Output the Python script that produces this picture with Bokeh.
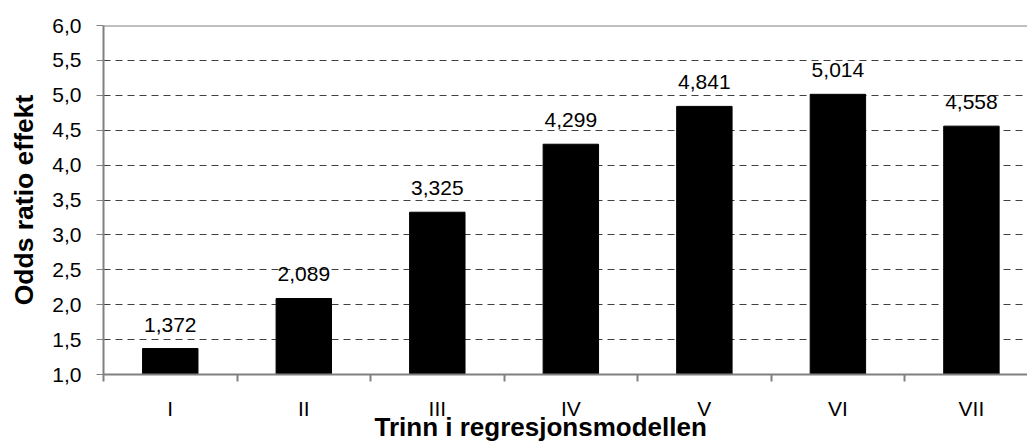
from bokeh.plotting import figure
from bokeh.models import Range1d, FixedTicker, CustomJSTickFormatter, Span, ColumnDataSource, Title
from bokeh.embed import file_html
from bokeh.resources import INLINE
from bokeh.core.properties import value

categories = ["I", "II", "III", "IV", "V", "VI", "VII"]
odds_ratio = [1.372, 2.089, 3.325, 4.299, 4.841, 5.014, 4.558]
y_ticks = [1.0, 1.5, 2.0, 2.5, 3.0, 3.5, 4.0, 4.5, 5.0, 5.5, 6.0]
x_title = "Trinn i regresjonsmodellen"
y_title = "Odds ratio effekt"

FONT = "Liberation Sans"

centers = [i + 0.5 for i in range(len(categories))]
boundaries = [float(i) for i in range(len(categories) + 1)]
labels = [f"{v:.3f}".replace(".", ",") for v in odds_ratio]

src = ColumnDataSource(dict(x=centers, top=odds_ratio, lab=labels))

p = figure(width=1027, height=443, output_backend="svg", toolbar_location=None,
           x_range=Range1d(0, 6.92), y_range=Range1d(1.0, 6.0),
           min_border_left=103, min_border_right=0, min_border_top=25, min_border_bottom=69)
p.outline_line_color = None
p.background_fill_color = "white"
p.border_fill_color = "white"

p.vbar(x="x", top="top", bottom=1.0, width=0.415, source=src,
       fill_color="black", line_color="black")
p.text(x="x", y="top", text="lab", source=src, text_align="center",
       text_baseline="alphabetic", y_offset=-24, text_font=value(FONT),
       text_font_size="21px", text_color="black")

# top border
p.add_layout(Span(location=6.0, dimension="width", line_color="#808080", line_width=2))

# y axis
ya = p.yaxis[0]
ya.ticker = FixedTicker(ticks=y_ticks)
ya.formatter = CustomJSTickFormatter(code="return tick.toFixed(1).replace('.', ',');")
ya.axis_label = y_title
ya.axis_label_text_font = FONT
ya.axis_label_text_font_style = "bold"
ya.axis_label_text_font_size = "26.5px"
ya.axis_label_text_color = "black"
ya.axis_label_standoff = 10
ya.major_label_text_font = FONT
ya.major_label_text_font_size = "21px"
ya.major_label_text_color = "black"
ya.major_label_standoff = 15
ya.axis_line_color = "#808080"
ya.axis_line_width = 2
ya.major_tick_line_color = "#808080"
ya.major_tick_out = 7
ya.major_tick_in = 0
ya.minor_tick_line_color = None

# x axis
xa = p.xaxis[0]
xa.ticker = FixedTicker(ticks=centers, minor_ticks=boundaries)
xa.major_label_overrides = {c: n for c, n in zip(centers, categories)}
xa.major_label_text_font = FONT
xa.major_label_text_font_size = "21px"
xa.major_label_text_color = "black"
xa.major_label_standoff = 15
xa.axis_line_color = "#808080"
xa.axis_line_width = 2
xa.major_tick_line_color = None
xa.major_tick_out = 0
xa.major_tick_in = 0
xa.minor_tick_line_color = "#808080"
xa.minor_tick_line_width = 2
xa.minor_tick_out = 7
xa.minor_tick_in = 0

# x axis title, centred on the chart area rather than the plot frame
p.add_layout(Title(text=x_title, align="left", offset=271, standoff=-22,
                   vertical_align="top", text_font=FONT, text_font_style="bold",
                   text_font_size="26px", text_color="black"), "below")

p.xgrid.grid_line_color = None
p.ygrid.ticker = FixedTicker(ticks=y_ticks[1:-1])
p.ygrid.grid_line_color = "#404040"
p.ygrid.grid_line_dash = "7 5"
p.ygrid.grid_line_width = 1

open("out.html", "w").write(file_html(p, INLINE))
